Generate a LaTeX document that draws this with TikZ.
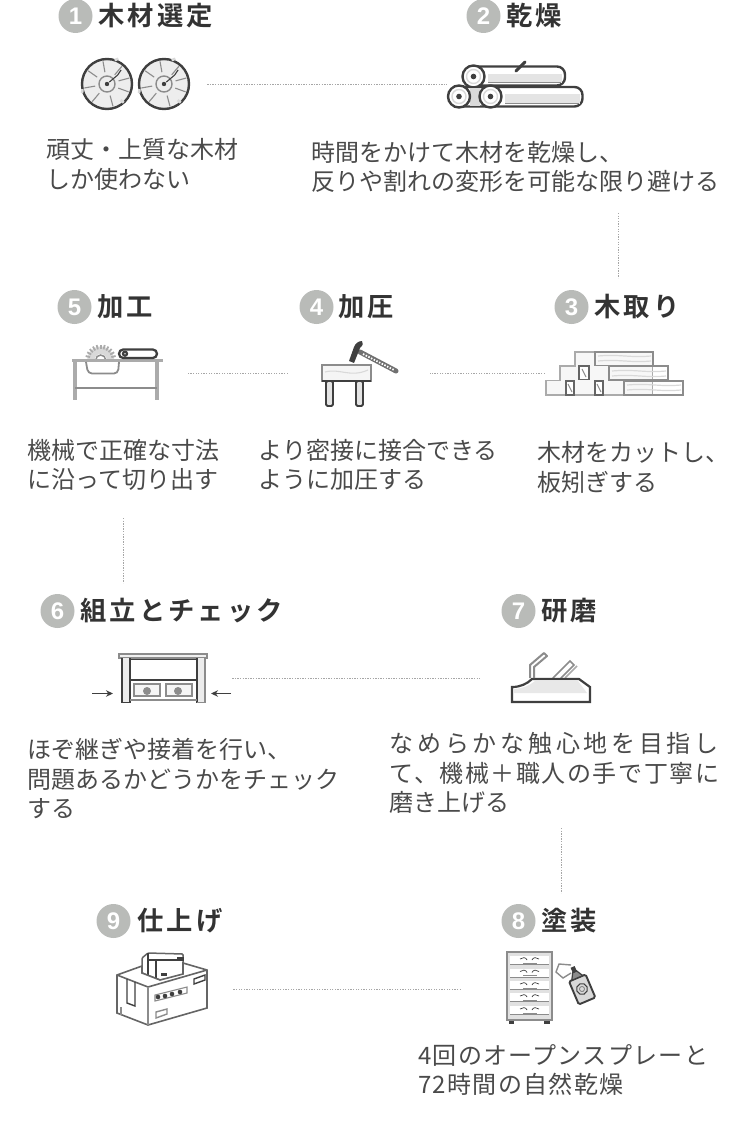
\documentclass[tikz,border=0pt]{standalone}
\usepackage{fontspec}
\setmainfont{Noto Sans CJK JP}
\newfontfamily\cjkbody{Noto Sans CJK JP}
\newfontfamily\cjktitle[LetterSpace=12,BoldFont={Noto Sans CJK JP Bold}]{Noto Sans CJK JP}
\newfontfamily\numfont{Liberation Sans}
\usetikzlibrary{arrows.meta}
\definecolor{ink}{HTML}{4A4A4A}
\definecolor{titleink}{HTML}{333333}
\definecolor{numgrey}{HTML}{B9BBB8}
\definecolor{dotgrey}{HTML}{A6A6A6}
\definecolor{iconink}{HTML}{3F3F3F}
\definecolor{iconmid}{HTML}{8C8C8C}
\definecolor{iconsoft}{HTML}{ABABAB}
\definecolor{iconlight}{HTML}{D9D9D9}
\tikzset{
  numdisc/.style={circle,fill=numgrey,draw=none,minimum size=34pt,inner sep=0pt,text=white,font=\numfont\bfseries\fontsize{24}{24}\selectfont},
  titletext/.style={anchor=west,inner sep=0pt,text=titleink,font=\cjktitle\bfseries\fontsize{26.3}{30}\selectfont},
  bodytext/.style={anchor=west,inner sep=0pt,align=left,text=ink,font=\cjkbody\fontsize{24}{29.5}\selectfont},
  iconbox/.style={draw=none,fill=none,inner sep=0pt,rectangle},
  dotline/.style={draw=dotgrey,line width=.9pt,dash pattern=on 1.3pt off 1.3pt},
  iconline/.style={draw=iconink,line width=2.2pt,line join=round},
  midline/.style={draw=iconmid,line width=2pt,line join=round},
  thinline/.style={draw=iconmid,line width=1.1pt},
  lightline/.style={draw=iconlight,line width=1.1pt},
  pressarrow/.style={draw=iconink,line width=1.3pt,-{Stealth[length=7pt,width=6.5pt]}},
}
\newcommand{\logdisc}[2]{%
  \begin{scope}[shift={(#1,#2)}]
    \fill[white!93!black] (0,0) circle[radius=25pt];
    \foreach \a in {20,75,130,170,215,260,310,345}{
      \draw[thinline] (\a:12) -- (\a:23);
    }
    \draw[iconmid,line width=1.4pt] (0,0) circle[radius=8pt];
    \draw[iconink,line width=1.1pt] (-40:3) -- (-40:14) -- (-45:20);
    \fill[iconink] (0,0) circle[radius=2.2pt];
    \draw[iconink,line width=2.4pt] (0,0) circle[radius=25pt];
    \foreach \a in {48,168,288}{\draw[iconlight,line width=2.6pt] (\a:25) arc[start angle=\a,delta angle=9,radius=25pt];}
  \end{scope}}
\newcommand{\logend}[2]{%
  \begin{scope}[shift={(#1,#2)}]
    \draw[iconink,line width=2.4pt,fill=white] (0,0) circle[radius=11pt];
    \draw[iconlight,line width=1.4pt] (0,0) circle[radius=7pt];
    \fill[iconink] (0,0) circle[radius=2.8pt];
  \end{scope}}
\newcommand{\drawerrow}[1]{%
  \fill[white] (510,#1) rectangle (549,#1+8);
  \draw[iconmid,line width=.7pt] (510,#1+8.7) -- (549,#1+8.7);
  \draw[iconink,line width=.7pt] (520,#1+3) .. controls (522,#1+1) and (526,#1+1) .. (527,#1+4);
  \draw[iconink,line width=.7pt] (532,#1+4) .. controls (533,#1+1) and (537,#1+1) .. (539,#1+3);
  \draw[iconmid,line width=1pt] (523,#1+7) -- (537,#1+7);}
\begin{document}
\begin{tikzpicture}[x=1pt,y=-1pt]
\useasboundingbox (0,0) rectangle (750,1123);
% step badges
\node[numdisc] (n1) at (75.5,16) {1};
\node[numdisc] (n2) at (483.5,16) {2};
\node[numdisc] (n3) at (571.5,307) {3};
\node[numdisc] (n4) at (316.5,307) {4};
\node[numdisc] (n5) at (74.5,307) {5};
\node[numdisc] (n6) at (57.5,611) {6};
\node[numdisc] (n7) at (518.5,611) {7};
\node[numdisc] (n8) at (518.5,921) {8};
\node[numdisc] (n9) at (113.5,921) {9};
% titles
\node[titletext] (t1) at (98,16) {木材選定};
\node[titletext] (t2) at (506,16) {乾燥};
\node[titletext] (t3) at (594,307) {木取り};
\node[titletext] (t4) at (338,307) {加圧};
\node[titletext] (t5) at (97,307) {加工};
\node[titletext] (t6) at (80,611) {組立とチェック};
\node[titletext] (t7) at (541,611) {研磨};
\node[titletext] (t8) at (541,921) {塗装};
\node[titletext] (t9) at (137,921) {仕上げ};
% body text
\node[bodytext] (b1) at (46,164.5) {頑丈・上質な木材\\しか使わない};
\node[bodytext] (b2) at (311,167) {時間をかけて木材を乾燥し、\\反りや割れの変形を可能な限り避ける};
\node[bodytext] (b3) at (537.5,467.5) {木材をカットし、\\板矧ぎする};
\node[bodytext] (b4) at (258.5,465) {より密接に接合できる\\ように加圧する};
\node[bodytext] (b5) at (27,465) {機械で正確な寸法\\に沿って切り出す};
\node[bodytext] (b6) at (27.5,779) {ほぞ継ぎや接着を行い、\\問題あるかどうかをチェック\\する};
\node[bodytext] (b7) at (389.5,773) {{\addfontfeature{LetterSpace=15.5}なめらかな触心地を目指し}\\{\addfontfeature{LetterSpace=6.5}て、機械＋職人の手で丁寧に}\\磨き上げる};
\node[bodytext] (b8) at (418,1070) {{\addfontfeature{LetterSpace=5.5}4回のオープンスプレーと}\\{\addfontfeature{LetterSpace=5.5}72時間の自然乾燥}};
% icon extents, used as connector ends
\node[iconbox,minimum width=130pt,minimum height=54pt] (i1) at (142,84) {};
\node[iconbox,minimum width=140pt,minimum height=54pt] (i2) at (517,84) {};
\node[iconbox,minimum width=115pt,minimum height=54pt] (i3) at (602.5,373) {};
\node[iconbox,minimum width=142pt,minimum height=54pt] (i4) at (359,373) {};
\node[iconbox,minimum width=118pt,minimum height=54pt] (i5) at (129,373) {};
\node[iconbox,minimum width=140pt,minimum height=54pt] (i6) at (162,678) {};
\node[iconbox,minimum width=110pt,minimum height=54pt] (i7) at (535,678) {};
\node[iconbox,minimum width=110pt,minimum height=70pt] (i8) at (516,989) {};
\node[iconbox,minimum width=110pt,minimum height=70pt] (i9) at (177,989) {};
% connectors
\draw[dotline] (i1.east) -- (i2.west);
\draw[dotline] (i3.west) -- (i4.east);
\draw[dotline] (i4.west) -- (i5.east);
\draw[dotline] (i6.east) -- (i7.west);
\draw[dotline] (i8.west) -- (i9.east);
\coordinate (v2a) at (618,213); \coordinate (v2b) at (618,278);
\coordinate (v5a) at (123,518); \coordinate (v5b) at (123,583);
\coordinate (v7a) at (561,828); \coordinate (v7b) at (561,893);
\draw[dotline] (v2a) -- (v2b);
\draw[dotline] (v5a) -- (v5b);
\draw[dotline] (v7a) -- (v7b);
% icon 1: log discs
\logdisc{107}{84}
\logdisc{164}{84}
% icon 2: stacked logs
\draw[iconink,line width=2.4pt,fill=white,rounded corners=8pt] (474,66.5) -- (565,66.5) -- (565,85.5) -- (474,85.5);
\fill[iconlight!70] (488,74) rectangle (562,83.5);
\draw[iconmid,line width=1.6pt] (488,82.5) -- (561,82.5);
\draw[iconink,line width=2.4pt,fill=white,rounded corners=8pt] (460,87) -- (582.5,87) -- (582.5,106.5) -- (460,106.5);
\fill[iconlight!70] (505,94) rectangle (580,104);
\draw[iconmid,line width=1.6pt] (505,103.5) -- (579,103.5);
\draw[iconink,line width=3pt,line cap=round] (516,71) -- (525,62);
\logend{473.5}{76.5}
\fill[iconlight] (470,88) rectangle (480,106);
\logend{459}{96.5}
\logend{490.5}{96.5}
% icon 3: planks
\draw[iconsoft,line width=1.6pt,fill=white!97!black] (546,395) -- (546,380.5) -- (560,380.5) -- (560,366) -- (575,366) -- (575,352) -- (653,352) -- (653,395) -- cycle;
\draw[iconsoft,line width=1.6pt,fill=white] (653,366) -- (668,366) -- (668,380.5) -- (683,380.5) -- (683,395) -- (653,395);
\draw[iconmid,line width=1.5pt] (595,352) rectangle (653,365.5);
\draw[iconmid,line width=1.5pt] (609,366) rectangle (668,380);
\draw[iconmid,line width=1.5pt] (624,381) rectangle (683,395);
\foreach \yy in {356,361}{\draw[iconlight,line width=1.2pt] (598,\yy) .. controls (620,\yy-2) and (630,\yy+2) .. (651,\yy);}
\foreach \yy in {371,376}{\draw[iconlight,line width=1.2pt] (612,\yy) .. controls (635,\yy-2) and (645,\yy+2) .. (666,\yy);}
\foreach \yy in {385,390}{\draw[iconlight,line width=1.2pt] (627,\yy) .. controls (650,\yy-2) and (660,\yy+2) .. (681,\yy);}
\draw[iconink!80,line width=1.7pt,fill=white] (579,366) rectangle (589,379.5);
\draw[iconink!80,line width=1.7pt,fill=white] (566,381) rectangle (574,395);
\draw[iconink!80,line width=1.7pt,fill=white] (595,381) rectangle (603,395);
\draw[iconmid,line width=1pt] (582,369) -- (586,377);
\draw[iconmid,line width=1pt] (568,384) -- (572,392);
\draw[iconmid,line width=1pt] (597,384) -- (601,392);
% icon 4: stool and hammer
\draw[iconmid,line width=1.8pt,fill=white!96!black] (322,365) rectangle (371,381);
\draw[iconink,line width=1.4pt] (322,381) -- (371,381);
\draw[lightline] (325,372) .. controls (340,368) and (350,378) .. (368,370);
\draw[iconink,line width=1.8pt,fill=iconlight!70,rounded corners=1.5pt] (326,381) rectangle (333,406);
\draw[iconink,line width=1.8pt,fill=iconlight!70,rounded corners=1.5pt] (356,381) rectangle (363,406);
\draw[iconmid!80!black,line width=5pt,line cap=round] (360,352) -- (396,371);
\draw[white,line width=1.8pt,dash pattern=on 1.5pt off 1.5pt] (363,354) -- (394,370);
\fill[iconink] (349,361) -- (354,363) -- (360,348) .. controls (363,345) .. (362,341) .. controls (358,341) and (355,344) .. (354,347) -- cycle;
% icon 5: table saw
\begin{scope}
  \clip (80,340) rectangle (125,359);
  \fill[iconlight] (100.7,360) circle[radius=13.5pt];
  \foreach \a in {0,15,...,345}{\draw[iconsoft,line width=1.8pt] (100.7,360)++(\a:11) -- ++(\a:4.5);}
  \fill[white] (100.7,360) circle[radius=6pt];
  \draw[iconmid,line width=1.5pt] (100.7,360) circle[radius=5pt];
\end{scope}
\draw[iconsoft,line width=3pt] (72,360.5) -- (163,360.5);
\draw[iconsoft,line width=3.6pt] (75,361) -- (75,400);
\draw[iconsoft,line width=3.6pt] (157,361) -- (157,400);
\draw[iconmid,line width=2.6pt] (75,388) -- (157,388);
\draw[iconmid,line width=1.8pt,rounded corners=4pt] (86,362) -- (88,373.5) -- (118,373.5) -- (119,362);
\draw[iconink,line width=2.3pt,fill=white,rounded corners=4.2pt] (119,349.5) rectangle (157,358);
\draw[iconink,line width=2.2pt] (125,353.7) circle[radius=2pt];
% icon 6: frame with drawers
\draw[iconmid,line width=2pt,fill=iconlight!40] (119,654) rectangle (207,657.5);
\fill[iconlight!50] (122,658) rectangle (130,702.5);
\fill[iconlight!50] (197,658) rectangle (205,702.5);
\draw[iconink,line width=1.9pt] (122,658) -- (122,702.5) -- (130,702.5) -- (130,658);
\draw[iconink,line width=1.9pt] (197,658) -- (197,702.5);
\draw[iconmid,line width=1.4pt] (197,702.5) -- (205,702.5) -- (205,658);
\draw[iconink,line width=2pt] (130,680) -- (197,680);
\draw[iconink,line width=1.4pt] (130,659.5) -- (197,659.5);
\draw[iconmid,line width=1.4pt] (130,700) -- (197,700);
\draw[iconmid,line width=1.5pt,fill=white!96!black] (134,684) rectangle (160,696);
\draw[iconmid,line width=1.5pt,fill=white!96!black] (166,684) rectangle (192,696);
\fill[iconmid] (147,691) circle[radius=4pt];
\fill[iconmid] (178,691) circle[radius=4pt];
\coordinate (al) at (92,693.5); \coordinate (alh) at (113,693.5);
\coordinate (ar) at (231,693.5); \coordinate (arh) at (211,693.5);
\draw[pressarrow] (al) -- (alh);
\draw[pressarrow] (ar) -- (arh);
% icon 7: plane
\draw[iconmid,line width=1.6pt,line cap=round] (553,678) -- (570,661) -- (574,665) -- (561,678);
\draw[iconsoft,line width=1.6pt] (565,678) -- (577,666);
\draw[iconink,line width=2.2pt,fill=white] (512,702) -- (512,687) .. controls (520,687) and (527,684) .. (532,679) -- (579,679) -- (590,687) -- (590,702) -- cycle;
\fill[iconlight!60] (514,689) .. controls (525,688) and (530,685) .. (535,681) -- (578,681) -- (587,693) -- (514,693) -- cycle;
\draw[iconmid,line width=2pt,line join=round] (530,678) -- (530,665) -- (544,653) -- (547,656) -- (534,667) -- (534,678);
% icon 8: cabinet and spray
\draw[iconmid,line width=1.5pt,fill=iconlight!80] (507,952) rectangle (552,1020);
\drawerrow{956}
\drawerrow{968.5}
\drawerrow{981}
\drawerrow{993}
\drawerrow{1006}
\fill[iconink] (509,1021) rectangle (514,1024);
\fill[iconink] (544,1021) rectangle (550,1024);
\draw[iconmid,line width=1.4pt] (571,965) -- (559,964) -- (556,972) -- (563,978) -- (571,973);
\begin{scope}[shift={(582,989)},rotate=23]
  \draw[iconink,line width=1.9pt,fill=iconlight,rounded corners=1.5pt] (-9,13) rectangle (9,-12);
  \draw[iconink,line width=1.2pt,fill=iconmid] (-6,-12) -- (-2,-19) -- (2,-19) -- (6,-12) -- cycle;
  \fill[iconink] (-2.2,-24) rectangle (2.2,-18);
  \draw[iconink,line width=1.1pt] (0,0) circle[radius=5.5pt];
  \draw[iconmid,line width=1pt] (0,0) circle[radius=2.5pt];
\end{scope}
% icon 9: packed box
\draw[iconink!80,line width=1.5pt,fill=white,rounded corners=1pt] (142,958) -- (148,953) -- (183,954) -- (183,977) -- (160,980) -- (142,973) -- cycle;
\draw[iconink,line width=1.4pt] (148,953) -- (148,976);
\draw[iconink,line width=1.4pt] (156,960) -- (156,978);
\draw[iconink,line width=1.4pt] (148,960) -- (183,960);
\draw[iconink,line width=1.4pt] (178,958) rectangle (183,960);
\fill[iconink] (161,973) rectangle (167,976);
\draw[iconink!80,line width=1.6pt,fill=white] (117,975) -- (142,966) -- (142,973) -- (160,980) -- (183,974) -- (183,963) -- (207,970) -- (207,1008) -- (148,1025) -- (117,1013) -- cycle;
\draw[iconink!80,line width=1.6pt] (117,975) -- (148,987) -- (207,970);
\draw[iconmid,line width=1.3pt] (148,987) -- (148,1025);
\draw[iconink,line width=1.4pt] (127,979) -- (127,1003) -- (135,1006) -- (135,982);
\draw[iconmid,line width=1.1pt] (121,1015) -- (121,1007);
\draw[iconmid,line width=1.1pt] (155,995) -- (187,987) -- (187,993) -- (155,1001) -- cycle;
\foreach \xx/\yy in {158/997,165/996,172/994,180/992}{\fill[iconink] (\xx,\yy) circle[radius=2.3pt];}
\draw[iconmid,line width=1.4pt] (156,1012) -- (167,1009) -- (167,1014) -- (156,1018) -- cycle;
\draw[iconink,line width=1.4pt] (194,979) -- (205,975) -- (205,980) -- (194,984) -- cycle;
\end{tikzpicture}
\end{document}
